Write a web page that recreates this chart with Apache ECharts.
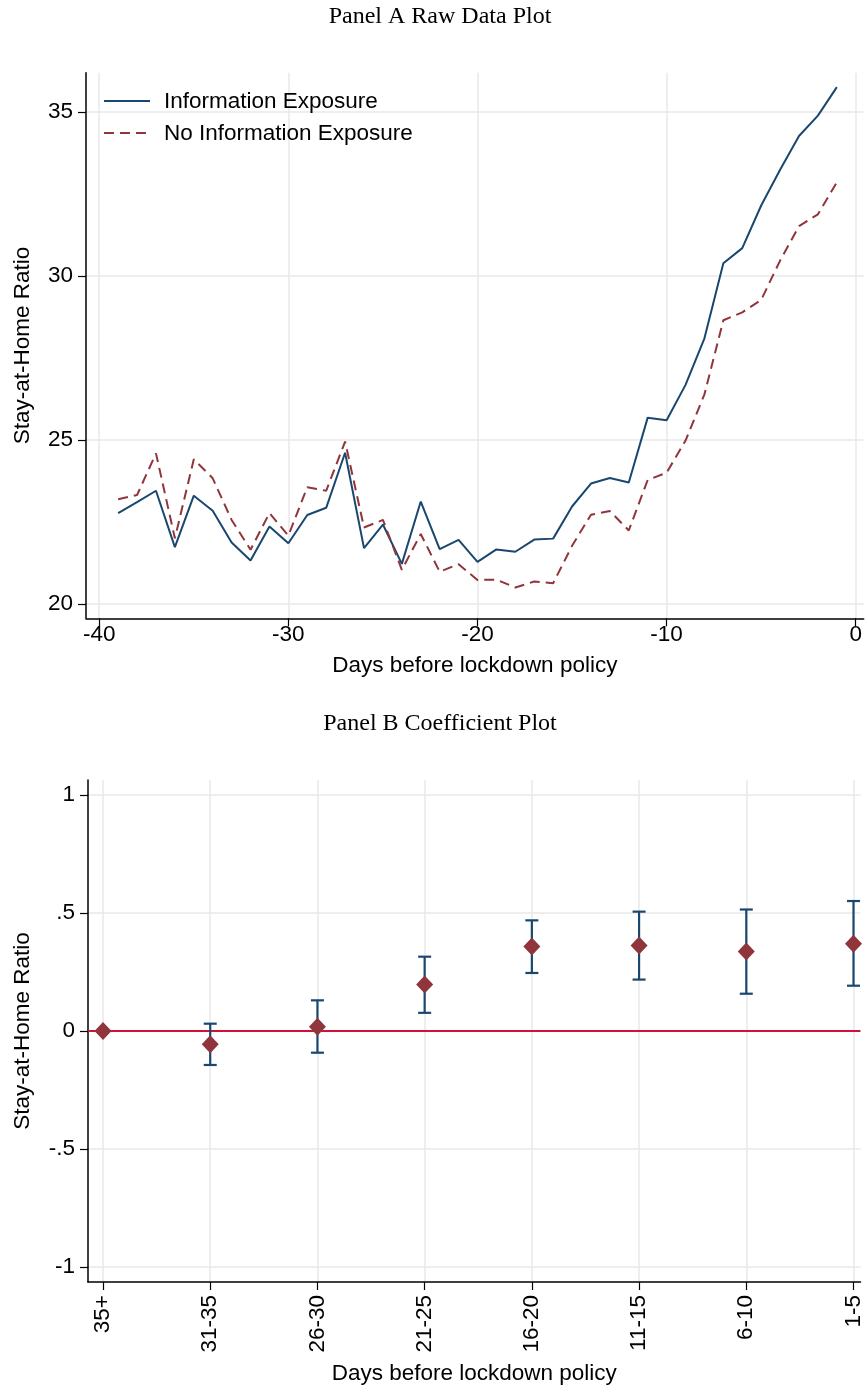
<!DOCTYPE html>
<html>
<head>
<meta charset="utf-8">
<script src="https://cdn.jsdelivr.net/npm/echarts@6/dist/echarts.min.js"></script>
<style>
html,body{margin:0;padding:0;background:#fff;}
#c{width:865px;height:1389px;}
</style>
</head>
<body>
<div id="c"></div>
<script>
// ---------- Panel A data ----------
var days = [-39,-38,-37,-36,-35,-34,-33,-32,-31,-30,-29,-28,-27,-26,-25,-24,-23,-22,-21,-20,
            -19,-18,-17,-16,-15,-14,-13,-12,-11,-10,-9,-8,-7,-6,-5,-4,-3,-2,-1];
var infoExposure = [22.77,23.10,23.45,21.73,23.30,22.84,21.87,21.32,22.36,21.85,22.71,22.93,24.61,21.70,22.42,21.22,23.12,21.67,21.95,21.28,
                    21.66,21.59,21.96,21.99,22.97,23.67,23.84,23.70,25.68,25.60,26.68,28.10,30.39,30.85,32.15,33.24,34.27,34.89,35.76];
var noInfoExposure = [23.19,23.32,24.59,22.00,24.41,23.83,22.56,21.65,22.77,22.08,23.56,23.45,24.95,22.33,22.56,21.04,22.13,20.98,21.21,20.73,
                      20.74,20.50,20.68,20.63,21.77,22.72,22.83,22.24,23.78,24.00,24.98,26.39,28.65,28.89,29.27,30.47,31.52,31.88,32.86];
var seriesNamesA = ['Information Exposure','No Information Exposure'];
var xTicksA = [-40,-30,-20,-10,0];
var yTicksA = [20,25,30,35];

// ---------- Panel B data ----------
var bins = ['35+','31-35','26-30','21-25','16-20','11-15','6-10','1-5'];
var coef = [0,-0.056,0.018,0.197,0.358,0.362,0.337,0.370];
var ciLow = [0,-0.144,-0.092,0.077,0.246,0.218,0.158,0.192];
var ciHigh = [0,0.031,0.130,0.315,0.469,0.506,0.515,0.551];
var yTicksB = [-1,-0.5,0,0.5,1];
var yTickLabelsB = ['-1','-.5','0','.5','1'];

var titleA = 'Panel A Raw Data Plot';
var titleB = 'Panel B Coefficient Plot';
var xNameAll = 'Days before lockdown policy';
var yNameAll = 'Stay-at-Home Ratio';

var NAVY = '#1a476f', MAROON = '#90353b', GRID = '#e8e8e8', RED = '#cf1338';
var SANS = 'Liberation Sans';
var FS = 22.5;
var DASH = [10,6];

var lineA1 = days.map(function(d,i){return [d, infoExposure[i]];});
var lineA2 = days.map(function(d,i){return [d, noInfoExposure[i]];});
var idx = bins.map(function(b,i){return i;});
var pointsB = idx.map(function(i){return [i, coef[i]];});
var ciB = idx.filter(function(i){return ciHigh[i]!==ciLow[i];}).map(function(i){return [i, ciLow[i], ciHigh[i]];});

var chart = echarts.init(document.getElementById('c'), null, {renderer:'canvas'});

function axisCommon(){
  return {
    axisLine:{show:true,onZero:false,lineStyle:{color:'#000',width:1.5}},
    axisTick:{show:true,length:8,lineStyle:{color:'#000',width:1.2}},
    axisLabel:{color:'#000',fontSize:FS,fontFamily:SANS},
    splitLine:{show:true,lineStyle:{color:GRID,width:1.5}},
    nameTextStyle:{color:'#000',fontSize:FS,fontFamily:SANS}
  };
}

var xA = Object.assign(axisCommon(), {
  type:'value', gridIndex:0, min:-40.7, max:0.42,
  name:xNameAll, nameLocation:'middle', nameGap:36
});
xA.axisTick.customValues = xTicksA;
xA.axisLabel.customValues = xTicksA;
xA.axisLabel.margin = 5;

var yA = Object.assign(axisCommon(), {
  type:'value', gridIndex:0, min:19.56, max:36.2,
  name:yNameAll, nameLocation:'middle', nameGap:52, nameRotate:90
});
yA.axisTick.customValues = yTicksA;
yA.axisLabel.customValues = yTicksA;
yA.axisLabel.margin = 13;

var xB = Object.assign(axisCommon(), {
  type:'value', gridIndex:1, min:-0.14, max:7.065,
  name:xNameAll, nameLocation:'middle', nameGap:80
});
xB.axisTick.customValues = idx;
xB.axisLabel.customValues = idx;
xB.axisLabel.rotate = 90;
xB.axisLabel.margin = 13;
xB.axisLabel.formatter = function(v){ return bins[Math.round(v)]; };

var yB = Object.assign(axisCommon(), {
  type:'value', gridIndex:1, min:-1.064, max:1.064,
  name:yNameAll, nameLocation:'middle', nameGap:54, nameRotate:90
});
yB.axisTick.customValues = yTicksB;
yB.axisLabel.customValues = yTicksB;
yB.axisLabel.margin = 13;
yB.axisLabel.formatter = function(v){
  for (var k=0;k<yTicksB.length;k++){ if (Math.abs(yTicksB[k]-v)<1e-6) return yTickLabelsB[k]; }
  return '';
};

var option = {
  animation:false,
  backgroundColor:'#fff',
  graphic:[
    {type:'text', z:100, x:440, y:16.5, style:{text:titleA, font:'24px "Liberation Serif"', fill:'#000', align:'center', verticalAlign:'middle'}},
    {type:'text', z:100, x:440, y:724, style:{text:titleB, font:'24px "Liberation Serif"', fill:'#000', align:'center', verticalAlign:'middle'}},
    // legend (drawn manually)
    {type:'line', z:100, shape:{x1:104,y1:101,x2:150,y2:101}, style:{stroke:NAVY,lineWidth:2}},
    {type:'line', z:100, shape:{x1:104,y1:133,x2:150,y2:133}, style:{stroke:MAROON,lineWidth:2,lineDash:DASH}},
    {type:'text', z:100, x:164, y:102, style:{text:seriesNamesA[0], font:FS+'px "Liberation Sans"', fill:'#000', align:'left', verticalAlign:'middle'}},
    {type:'text', z:100, x:164, y:134, style:{text:seriesNamesA[1], font:FS+'px "Liberation Sans"', fill:'#000', align:'left', verticalAlign:'middle'}}
  ],
  grid:[
    {left:86, right:0, top:72.7, bottom:770.7, containLabel:false},
    {left:88, right:0, top:780, bottom:107, containLabel:false}
  ],
  xAxis:[xA, xB],
  yAxis:[yA, yB],
  series:[
    {
      name:seriesNamesA[0], type:'line', xAxisIndex:0, yAxisIndex:0,
      data:lineA1, symbol:'none', lineStyle:{color:NAVY,width:2}, itemStyle:{color:NAVY}
    },
    {
      name:seriesNamesA[1], type:'line', xAxisIndex:0, yAxisIndex:0,
      data:lineA2, symbol:'none', lineStyle:{color:MAROON,width:2,type:DASH}, itemStyle:{color:MAROON}
    },
    {
      name:'CI', type:'custom', xAxisIndex:1, yAxisIndex:1, data:ciB, z:3,
      renderItem:function(params, api){
        var x = api.value(0);
        var lo = api.coord([x, api.value(1)]);
        var hi = api.coord([x, api.value(2)]);
        var hw = 6.5;
        var st = {stroke:NAVY, lineWidth:2.2, fill:null};
        return {type:'group', children:[
          {type:'line', shape:{x1:lo[0],y1:lo[1],x2:hi[0],y2:hi[1]}, style:st},
          {type:'line', shape:{x1:lo[0]-hw,y1:lo[1],x2:lo[0]+hw,y2:lo[1]}, style:st},
          {type:'line', shape:{x1:hi[0]-hw,y1:hi[1],x2:hi[0]+hw,y2:hi[1]}, style:st}
        ]};
      }
    },
    {
      name:'Coef', type:'scatter', xAxisIndex:1, yAxisIndex:1, data:pointsB, z:5,
      symbol:'diamond', symbolSize:[17,18], itemStyle:{color:MAROON, opacity:1},
      markLine:{
        silent:true, symbol:['none','none'], label:{show:false}, z:2,
        lineStyle:{color:RED,width:2,type:'solid',opacity:1},
        data:[{yAxis:0}]
      }
    }
  ]
};
chart.setOption(option);
</script>
</body>
</html>
